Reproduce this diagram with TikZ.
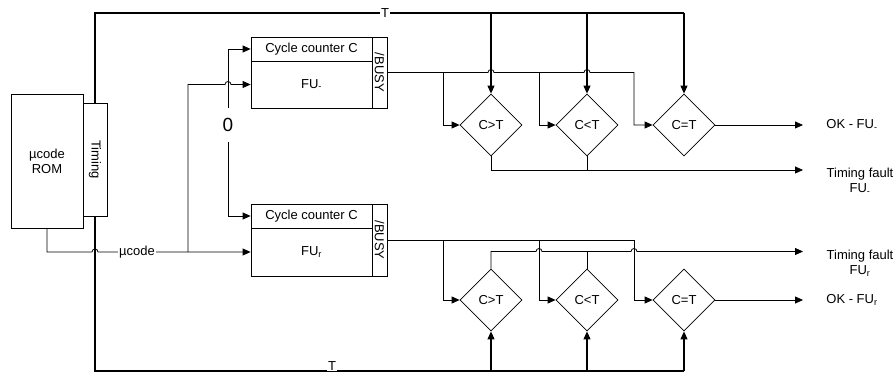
\documentclass[tikz,border=0pt]{standalone}
\usepackage{fontspec}
\setmainfont{Liberation Sans}
\usetikzlibrary{shapes.geometric,arrows.meta}
\begin{document}
\begin{tikzpicture}[x=1pt,y=1pt,
  every node/.style={font=\fontsize{13}{15}\selectfont},
  lin/.style={line width=0.8pt},
  tline/.style={line width=1.1pt},
  arr/.style={-{Triangle[length=8pt,width=7pt]}},
  box/.style={draw, line width=0.8pt, inner sep=0pt},
  diam/.style={draw, diamond, line width=0.8pt, inner sep=0pt, minimum width=62pt, minimum height=62pt},
  lab/.style={fill=white, inner xsep=1pt, inner ysep=0pt}]
\useasboundingbox (0,0) rectangle (894,-374);
% ROM and Timing
\node[box, minimum width=72pt, minimum height=134pt, align=center] (rom) at (47,-161) {µcode\\ROM};
\node[box, minimum width=24pt, minimum height=113pt] (tim) at (95,-159.5) {};
\node[rotate=-90, inner sep=0pt] (timt) at (tim.center) {Timing};
% top counter box
\node[box, minimum width=121pt, minimum height=24pt] (h1) at (311.5,-49) {Cycle counter C};
\node[box, minimum width=121pt, minimum height=47pt] (b1) at (311.5,-84.5) {FU\textsubscript{-}};
\node[box, minimum width=15pt, minimum height=71pt] (bz1) at (379.5,-72.5) {};
\node[rotate=-90, inner sep=0pt] (bz1t) at (bz1.center) {/BUSY};
% bottom counter box
\node[box, minimum width=121pt, minimum height=24pt] (h2) at (311.5,-216) {Cycle counter C};
\node[box, minimum width=121pt, minimum height=48pt] (b2) at (311.5,-252) {FU\textsubscript{r}};
\node[box, minimum width=15pt, minimum height=72pt] (bz2) at (379.5,-240) {};
\node[rotate=-90, inner sep=0pt] (bz2t) at (bz2.center) {/BUSY};
% diamonds
\node[diam] (d1) at (491,-125) {C>T};
\node[diam] (d2) at (587,-125) {C<T};
\node[diam] (d3) at (684,-125) {C=T};
\node[diam] (d4) at (491,-300) {C>T};
\node[diam] (d5) at (587,-300) {C<T};
\node[diam] (d6) at (684,-300) {C=T};
% zero
\node[font=\fontsize{19}{19}\selectfont, minimum height=34pt, inner sep=0pt] (zero) at (228,-125) {0};
% output coordinates
\coordinate (o1) at (803,-125);
\coordinate (f1) at (803,-170);
\coordinate (f2) at (803,-251.5);
\coordinate (o2) at (803,-300);
% T lines
\draw[tline] (tim.north) -- (95,-13) -- (684,-13);
\draw[tline,arr] (684,-13) -- (d3.north);
\draw[tline,arr] (491,-13) -- (d1.north);
\draw[tline,arr] (587,-13) -- (d2.north);
\node[lab] (tl1) at (385,-13) {T};
\draw[tline] (tim.south) -- (95,-371) -- (684,-371);
\draw[tline,arr] (684,-371) -- (d6.south);
\draw[tline,arr] (491,-371) -- (d4.south);
\draw[tline,arr] (587,-371) -- (d5.south);
\node[fill=white, inner xsep=1pt, inner ysep=0pt, anchor=base] (tl2) at (332,-370.5) {T};
% microcode
\draw[lin,arr] (rom.south) -- (47,-252) -- (92,-252) arc(180:0:3) -- (b2.west);
\draw[lin,arr] (188,-252) -- (188,-84.5) -- (225,-84.5) arc(180:0:3) -- (b1.west);
\node[lab] (mc) at (137,-252) {µcode};
% zero
\draw[lin,arr] (zero.north) |- (h1.west);
\draw[lin,arr] (zero.south) |- (h2.west);
% top busy
\draw[lin,arr] (bz1.east) -- (488,-72.5) arc(180:0:3) -- (584,-72.5) arc(180:0:3) -- (634,-72.5) |- (d3.west);
\draw[lin,arr] (443,-72.5) |- (d1.west);
\draw[lin,arr] (539,-72.5) |- (d2.west);
% top outputs
\draw[lin,arr] (d1.south) |- (f1);
\draw[lin] (d2.south) -- (d2.south |- f1);
\draw[lin,arr] (d3.east) -- (o1);
\node (ok1) at (852,-125) {OK - FU\textsubscript{-}};
\node[align=center] (tf1) at (860,-181) {Timing fault\\FU\textsubscript{-}};
% bottom busy
\draw[lin,arr] (bz2.east) -- (634,-240) |- (d6.west);
\draw[lin,arr] (443,-240) |- (d4.west);
\draw[lin,arr] (539,-240) |- (d5.west);
% bottom outputs
\draw[lin,arr] (d4.north) |- (536,-251.5) arc(180:0:3) -- (631,-251.5) arc(180:0:3) -- (f2);
\draw[lin] (d5.north) -- (d5.north |- f2);
\draw[lin,arr] (d6.east) -- (o2);
\node[align=center] (tf2) at (860,-263) {Timing fault\\FU\textsubscript{r}};
\node (ok2) at (852,-300) {OK - FU\textsubscript{r}};
\end{tikzpicture}
\end{document}
